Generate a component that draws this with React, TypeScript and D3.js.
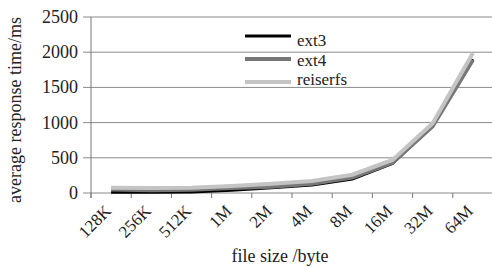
import * as d3 from "d3";
import React from "react";

const sizes = ["128K", "256K", "512K", "1M", "2M", "4M", "8M", "16M", "32M", "64M"];
const ext3 = [10, 10, 15, 40, 75, 115, 200, 420, 960, 1900];
const ext4 = [50, 40, 45, 70, 90, 130, 220, 430, 950, 1890];
const reiserfs = [75, 70, 75, 100, 130, 170, 260, 470, 990, 1990];
const yTicks = [0, 500, 1000, 1500, 2000, 2500];

const seriesList = [
  { name: "ext3", values: ext3, color: "#000", width: 3 },
  { name: "ext4", values: ext4, color: "#777", width: 4 },
  { name: "reiserfs", values: reiserfs, color: "#c4c4c4", width: 4 },
];

const W = 492;
const H = 266;
const margin = { top: 17, right: 0, bottom: 73, left: 91 };
const font = "'Liberation Serif', 'Times New Roman', serif";

export default function App() {
  const x = d3.scaleBand().domain(sizes).range([margin.left, 493]);
  const y = d3.scaleLinear().domain([0, 2500]).range([H - margin.bottom, margin.top]);
  const cx = (s: string) => (x(s) as number) + x.bandwidth() / 2;
  const line = d3
    .line<number>()
    .x((_, i) => cx(sizes[i]))
    .y((d) => y(d));
  const y0 = y(0);
  const ticksX = sizes.map((s) => x(s) as number).concat([x.range()[1]]);

  return (
    <svg
      width={W}
      height={H}
      style={{ position: "absolute", left: 0, top: 0, background: "#fff" }}
      fontFamily={font}
    >
      {/* grid */}
      {yTicks.map((t) => (
        <g key={t}>
          <line x1={margin.left - 8} x2={W} y1={y(t)} y2={y(t)} stroke="#8a8a8a" strokeWidth={1} />
          <text x={78} y={y(t) + 6} textAnchor="end" fontSize={18} fill="#222">
            {t}
          </text>
        </g>
      ))}
      <line x1={margin.left} x2={margin.left} y1={margin.top} y2={y0 + 5} stroke="#777" />
      {ticksX.map((t, i) => (
        <line key={i} x1={t} x2={t} y1={y0} y2={y0 + 5} stroke="#777" />
      ))}
      {sizes.map((s) => (
        <text
          key={s}
          transform={`translate(${cx(s) + 1},${y0 + 19}) rotate(-45)`}
          textAnchor="end"
          fontSize={17}
          fill="#222"
        >
          {s}
        </text>
      ))}
      {/* lines */}
      {seriesList.map((s) => (
        <path key={s.name} d={line(s.values) || ""} fill="none" stroke={s.color} strokeWidth={s.width} />
      ))}
      {/* legend */}
      {seriesList.map((s, i) => (
        <g key={s.name}>
          <line x1={245} x2={291} y1={36 + i * 23} y2={36 + i * 23} stroke={s.color} strokeWidth={s.width} />
          <text x={297} y={46 + i * 19.5} fontSize={17} fill="#222">
            {s.name}
          </text>
        </g>
      ))}
      <text x={280} y={262} textAnchor="middle" fontSize={18} fill="#222">
        file size /byte
      </text>
      <text
        transform={`translate(21,${(margin.top + y0) / 2 + 5}) rotate(-90)`}
        textAnchor="middle"
        fontSize={18}
        fill="#222"
      >
        average response time/ms
      </text>
    </svg>
  );
}
